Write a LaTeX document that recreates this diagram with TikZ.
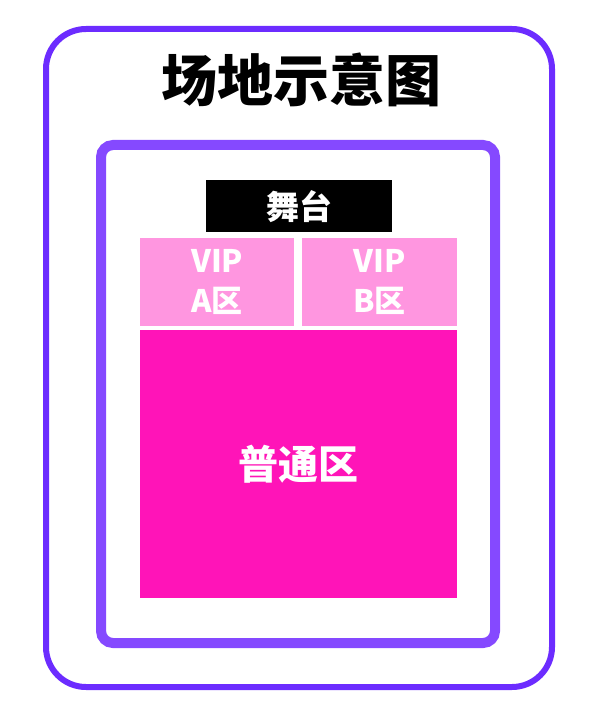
\documentclass[tikz,border=0pt]{standalone}
\usepackage{fontspec}
\usepackage{xcolor}
\usepackage{tikz}
\usetikzlibrary{positioning}
\newfontfamily\cjk{Noto Sans CJK SC}
\definecolor{outerline}{HTML}{6C2CFF}
\definecolor{innerline}{HTML}{8549FF}
\definecolor{vippink}{HTML}{FF96E0}
\definecolor{hallpink}{HTML}{FF14B8}
\tikzset{
	zone/.style={rectangle,anchor=north west,inner sep=0pt,align=center,text=white,
		font=\cjk\bfseries\fontsize{31}{40}\selectfont},
	title/.style={font=\cjk\bfseries\fontsize{56}{60}\selectfont}
}

\begin{document}
\begin{tikzpicture}[x=1pt,y=-1pt]
	\useasboundingbox (0,0) rectangle (600,714);
	% frames
	\draw[outerline,line width=6pt,rounded corners=40pt] (46,29) rectangle (552,687);
	\draw[innerline,line width=10pt,rounded corners=12pt] (101,145) rectangle (495,643);
	\node [title] (t) at (301,80) {场地示意图};
	% stage and zones
	\node [zone,fill=black,minimum width=186pt,minimum height=52pt,
		font=\cjk\bfseries\fontsize{33}{36}\selectfont] (s) at (206,180) {舞台};
	\node [zone,fill=vippink,minimum width=154pt,minimum height=88pt] (a) at (140,238) {VIP\\A区};
	\node [zone,fill=vippink,minimum width=155pt,minimum height=88pt] (b) at (302,238) {VIP\\B区};
	\node [zone,fill=hallpink,minimum width=317pt,minimum height=268pt,
		font=\cjk\bfseries\fontsize{40}{44}\selectfont] (c) at (140,330) {普通区};
\end{tikzpicture}
\end{document}
